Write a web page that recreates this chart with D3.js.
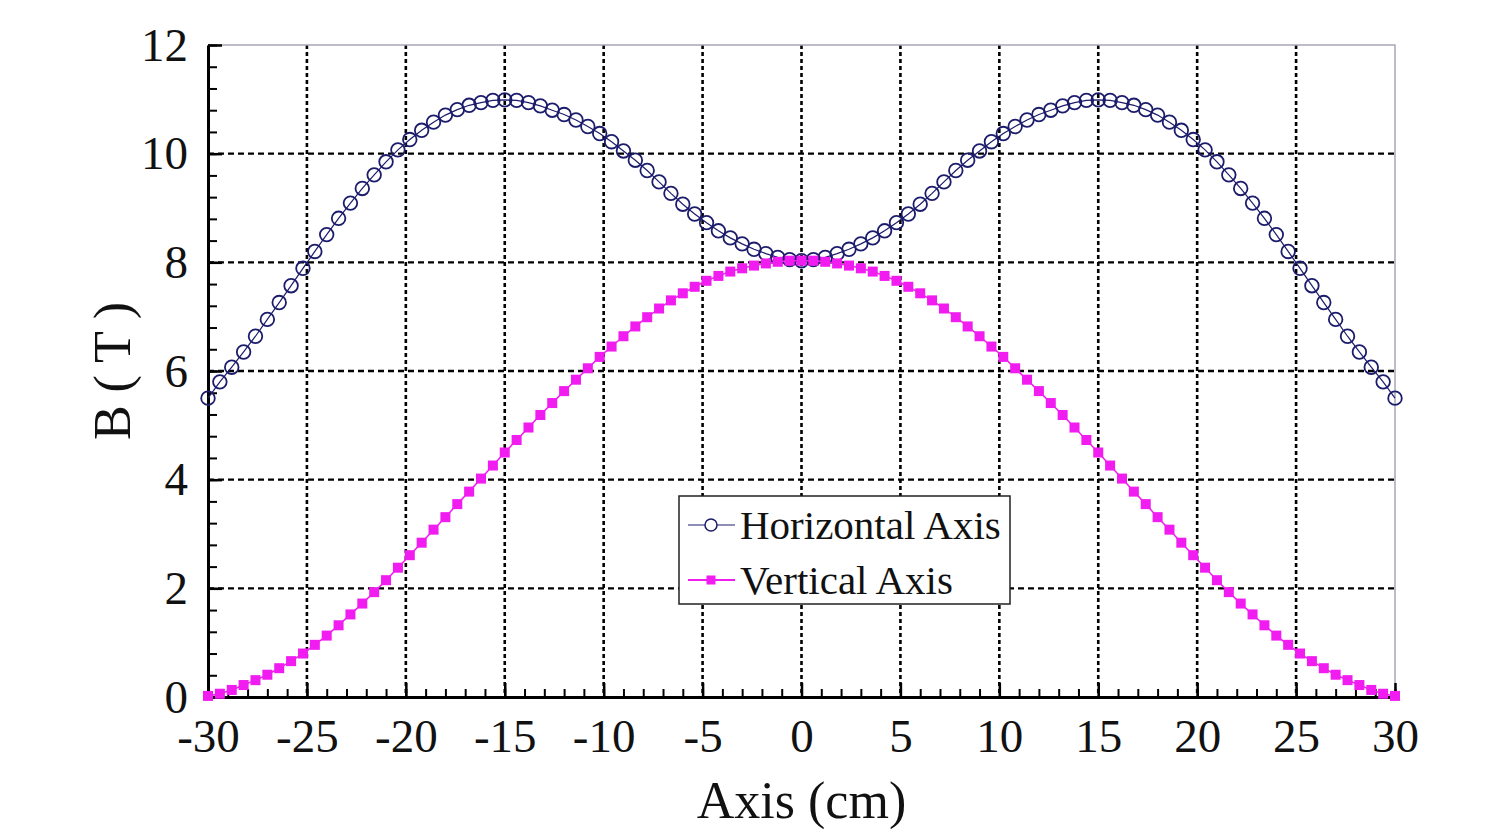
<!DOCTYPE html>
<html>
<head>
<meta charset="utf-8">
<script src="https://cdn.jsdelivr.net/npm/d3@7"></script>
<style>
  html, body { margin: 0; padding: 0; background: #fff; }
  svg { display: block; }
  .tick line { stroke: #000; }
</style>
</head>
<body>
<div id="chart"></div>
<script>
// sample positions along the axis (cm), 0.6 cm apart
var positions = d3.range(0, 101).map(function(i) { return +(-30 + i * 0.6).toFixed(1); });

// field along the horizontal axis (T)
var horizontalB = [
    5.50, 5.80, 6.07, 6.35, 6.64, 6.95, 7.26, 7.57, 7.89, 8.20,
    8.51, 8.81, 9.09, 9.36, 9.61, 9.85, 10.07, 10.26, 10.43, 10.58,
    10.71, 10.81, 10.89, 10.94, 10.98, 10.99, 10.98, 10.94, 10.88, 10.80,
    10.72, 10.62, 10.50, 10.37, 10.22, 10.05, 9.88, 9.69, 9.48, 9.27,
    9.07, 8.89, 8.73, 8.58, 8.45, 8.34, 8.24, 8.16, 8.09, 8.05,
    8.03,
    8.05, 8.09, 8.16, 8.24, 8.34, 8.45, 8.58, 8.73, 8.89, 9.07,
    9.27, 9.48, 9.69, 9.88, 10.05, 10.22, 10.37, 10.50, 10.62, 10.72,
    10.80, 10.88, 10.94, 10.98, 10.99, 10.98, 10.94, 10.89, 10.81, 10.71,
    10.58, 10.43, 10.26, 10.07, 9.85, 9.61, 9.36, 9.09, 8.81, 8.51,
    8.20, 7.89, 7.57, 7.26, 6.95, 6.64, 6.35, 6.07, 5.80, 5.50
];

// field along the vertical axis (T)
var verticalB = [
    0.02, 0.06, 0.13, 0.22, 0.31, 0.41, 0.53, 0.66, 0.80, 0.96,
    1.13, 1.32, 1.52, 1.72, 1.93, 2.15, 2.38, 2.61, 2.84, 3.08,
    3.31, 3.55, 3.78, 4.02, 4.26, 4.50, 4.73, 4.96, 5.19, 5.41,
    5.63, 5.84, 6.05, 6.26, 6.45, 6.64, 6.82, 6.99, 7.15, 7.30,
    7.43, 7.55, 7.66, 7.75, 7.83, 7.89, 7.94, 7.98, 8.01, 8.03,
    8.03,
    8.03, 8.01, 7.98, 7.94, 7.89, 7.83, 7.75, 7.66, 7.55, 7.43,
    7.30, 7.15, 6.99, 6.82, 6.64, 6.45, 6.26, 6.05, 5.84, 5.63,
    5.41, 5.19, 4.96, 4.73, 4.50, 4.26, 4.02, 3.78, 3.55, 3.31,
    3.08, 2.84, 2.61, 2.38, 2.15, 1.93, 1.72, 1.52, 1.32, 1.13,
    0.96, 0.80, 0.66, 0.53, 0.41, 0.31, 0.22, 0.13, 0.06, 0.02
];

var xTicks = [-30, -25, -20, -15, -10, -5, 0, 5, 10, 15, 20, 25, 30];
var yTicks = [0, 2, 4, 6, 8, 10, 12];
var seriesNames = ["Horizontal Axis", "Vertical Axis"];

var W = 1507, H = 834;
var margin = { top: 45, right: 112, bottom: 137, left: 208 };
var width = W - margin.left - margin.right;
var height = H - margin.top - margin.bottom;
var serif = "'Liberation Serif', 'Times New Roman', serif";

var svg = d3.select("#chart").append("svg")
    .attr("width", W)
    .attr("height", H);

var g = svg.append("g")
    .attr("transform", "translate(" + margin.left + "," + margin.top + ")");

var x = d3.scaleLinear().domain([-30, 30]).range([0, width]);
var y = d3.scaleLinear().domain([0, 12]).range([height, 0]);

// grid
g.append("g").selectAll("line")
    .data(xTicks.slice(1, -1)).enter().append("line")
    .attr("x1", function(d) { return x(d); })
    .attr("x2", function(d) { return x(d); })
    .attr("y1", 0).attr("y2", height)
    .attr("stroke", "#000").attr("stroke-width", 2.6)
    .attr("stroke-dasharray", "4,3");

g.append("g").selectAll("line")
    .data(yTicks.slice(1, -1)).enter().append("line")
    .attr("y1", function(d) { return y(d); })
    .attr("y2", function(d) { return y(d); })
    .attr("x1", 0).attr("x2", width)
    .attr("stroke", "#000").attr("stroke-width", 2.4)
    .attr("stroke-dasharray", "6,4");

// top / right frame
g.append("path")
    .attr("d", "M0,0H" + width + "V" + height)
    .attr("fill", "none").attr("stroke", "#a8a8b8").attr("stroke-width", 1.5);

// minor ticks
g.append("g")
    .attr("transform", "translate(0," + height + ")")
    .call(d3.axisBottom(x).tickValues(d3.range(-30, 31, 1)).tickSize(-8).tickFormat(""))
    .call(function(s) { s.select(".domain").remove(); s.selectAll("line").attr("stroke-width", 2); });

g.append("g")
    .call(d3.axisLeft(y).tickValues(d3.range(0, 12.01, 0.4)).tickSize(-9).tickFormat(""))
    .call(function(s) { s.select(".domain").remove(); s.selectAll("line").attr("stroke-width", 2); });

// major ticks + labels (plain hyphen minus, as in the original)
var plain = function(d) { return String(d); };

var xAxis = g.append("g")
    .attr("transform", "translate(0," + height + ")")
    .call(d3.axisBottom(x).tickValues(xTicks).tickSize(-14).tickPadding(22).tickSizeOuter(0).tickFormat(plain));
xAxis.select(".domain").attr("stroke", "#000").attr("stroke-width", 3);
xAxis.selectAll("line").attr("stroke-width", 2.5);
xAxis.selectAll("text")
    .attr("fill", "#111").style("font-family", serif).style("font-size", "47px");

var yAxis = g.append("g")
    .call(d3.axisLeft(y).tickValues(yTicks).tickSize(-14).tickPadding(20).tickSizeOuter(0).tickFormat(plain));
yAxis.select(".domain").attr("stroke", "#000").attr("stroke-width", 3);
yAxis.selectAll("line").attr("stroke-width", 2.5);
yAxis.selectAll("text")
    .attr("fill", "#111").style("font-family", serif).style("font-size", "47px");

// axis titles
svg.append("text")
    .attr("x", margin.left + x(0))
    .attr("y", 818)
    .attr("text-anchor", "middle")
    .style("font-family", serif).style("font-size", "52px").attr("fill", "#111")
    .text("Axis (cm)");

svg.append("text")
    .attr("transform", "translate(130," + (margin.top + y(6)) + ") rotate(-90)")
    .attr("text-anchor", "middle")
    .style("font-family", serif).style("font-size", "52px").attr("fill", "#111")
    .text("B ( T )");

// series
var navy = "#1c1c6c", magenta = "#f01cf0";

var line = d3.line()
    .x(function(d) { return x(d[0]); })
    .y(function(d) { return y(d[1]); });

var hData = positions.map(function(p, i) { return [p, horizontalB[i]]; });
var vData = positions.map(function(p, i) { return [p, verticalB[i]]; });

g.append("path").datum(hData)
    .attr("d", line).attr("fill", "none").attr("stroke", navy).attr("stroke-width", 1.2);

g.append("g").selectAll("circle")
    .data(hData).enter().append("circle")
    .attr("cx", function(d) { return x(d[0]); })
    .attr("cy", function(d) { return y(d[1]); })
    .attr("r", 6.8)
    .attr("fill", "none")
    .attr("stroke", navy).attr("stroke-width", 1.8);

g.append("path").datum(vData)
    .attr("d", line).attr("fill", "none").attr("stroke", magenta).attr("stroke-width", 1.5);

g.append("g").selectAll("rect")
    .data(vData).enter().append("rect")
    .attr("x", function(d) { return x(d[0]) - 5; })
    .attr("y", function(d) { return y(d[1]) - 5; })
    .attr("width", 10).attr("height", 10)
    .attr("fill", magenta);

// legend
var legend = svg.append("g").attr("transform", "translate(679,496)");
legend.append("rect")
    .attr("width", 331).attr("height", 108)
    .attr("fill", "#fff").attr("stroke", "#222").attr("stroke-width", 1.5);

var item = legend.selectAll(".item")
    .data(seriesNames).enter().append("g")
    .attr("class", "item")
    .attr("transform", function(d, i) { return "translate(0," + (29 + i * 55) + ")"; });

item.append("line")
    .attr("x1", 9).attr("x2", 56)
    .attr("stroke", function(d, i) { return i === 0 ? navy : magenta; })
    .attr("stroke-width", function(d, i) { return i === 0 ? 1.2 : 2; });

item.each(function(d, i) {
    var s = d3.select(this);
    if (i === 0) {
        s.append("circle").attr("cx", 32).attr("r", 6)
            .attr("fill", "#fff").attr("stroke", navy).attr("stroke-width", 1.5);
    } else {
        s.append("rect").attr("x", 27.5).attr("y", -4.5).attr("width", 9).attr("height", 9)
            .attr("fill", magenta);
    }
});

item.append("text")
    .attr("x", 61).attr("y", 14)
    .style("font-family", serif).style("font-size", "41px").attr("fill", "#111")
    .text(function(d) { return d; });
</script>
</body>
</html>
